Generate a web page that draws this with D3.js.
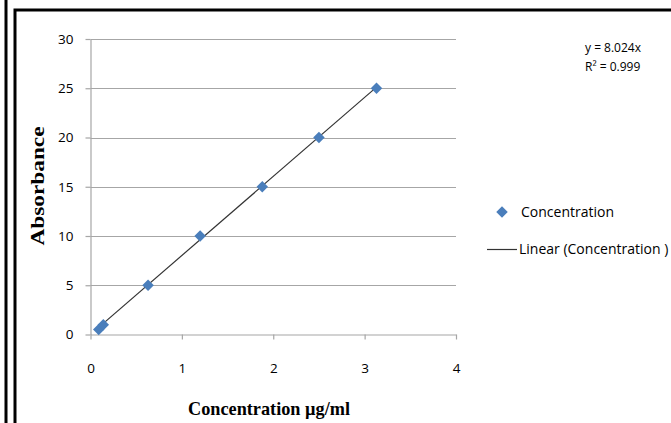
<!DOCTYPE html>
<html>
<head>
<meta charset="utf-8">
<script src="https://cdn.jsdelivr.net/npm/d3@7"></script>
<style>
  body { margin: 0; background: #fff; }
  svg { display: block; }
</style>
</head>
<body>
<svg width="671" height="423"></svg>
<script>
// data
const concentration = [0.09, 0.14, 0.63, 1.2, 1.88, 2.5, 3.13];
const absorbance = [0.5, 1, 5, 10, 15, 20, 25];
const slope = 8.024;
const xTicks = [0, 1, 2, 3, 4];
const yTicks = [0, 5, 10, 15, 20, 25, 30];

const $svg = d3.select('svg');

// outer frame
$svg.append('line').attr('x1', 6).attr('x2', 6).attr('y1', 0).attr('y2', 423)
  .attr('stroke', '#000').attr('stroke-width', 3);
$svg.append('path').attr('d', 'M15,423V10H671')
  .attr('fill', 'none').attr('stroke', '#000').attr('stroke-width', 3);

const x = d3.scaleLinear().domain([0, 4]).range([90.5, 456]);
const y = d3.scaleLinear().domain([0, 30]).range([334.5, 39]);

// gridlines
$svg.append('g').selectAll('line').data(yTicks.slice(1)).join('line')
  .attr('x1', x(0)).attr('x2', x(4))
  .attr('y1', (d) => Math.round(y(d)) + 0.5).attr('y2', (d) => Math.round(y(d)) + 0.5)
  .attr('stroke', '#a6a6a6').attr('stroke-width', 1.2);

const axisStyle = ($g) => {
  $g.attr('font-family', '"Open Sans", sans-serif').attr('font-size', 13.5);
  $g.select('.domain').attr('stroke', '#a6a6a6').attr('stroke-width', 1.2);
  $g.selectAll('.tick line').attr('stroke', '#a6a6a6').attr('stroke-width', 1.2);
  $g.selectAll('.tick text').attr('fill', '#000');
};

$svg.append('g').attr('transform', `translate(0,${y(0)})`)
  .call(d3.axisBottom(x).tickValues(xTicks).tickFormat(d3.format('d'))
    .tickSize(5).tickSizeOuter(0).tickPadding(24))
  .call(axisStyle);

$svg.append('g').attr('transform', `translate(${x(0)},0)`)
  .call(d3.axisLeft(y).tickValues(yTicks).tickFormat(d3.format('d'))
    .tickSize(5).tickSizeOuter(0).tickPadding(12))
  .call(axisStyle);

// linear trendline through origin
const xs = d3.extent(concentration);
$svg.append('path')
  .datum(xs.map((d) => [d, slope * d]))
  .attr('d', d3.line().x((d) => x(d[0])).y((d) => y(d[1])))
  .attr('stroke', '#333').attr('stroke-width', 1.2).attr('fill', 'none');

// markers
const diamond = d3.symbol().type(d3.symbolDiamond2).size(84);
$svg.append('g').selectAll('path').data(concentration).join('path')
  .attr('transform', (d, i) => `translate(${x(d)},${y(absorbance[i])})`)
  .attr('d', diamond)
  .attr('fill', '#4a7ebb');

// equation
const eq = $svg.append('text')
  .attr('font-family', '"Open Sans", sans-serif')
  .attr('font-size', 12).attr('fill', '#000');
eq.append('tspan').attr('x', 585).attr('y', 52).text('y = 8.024x');
eq.append('tspan').attr('x', 585).attr('y', 71).text('R² = 0.999');

// legend
$svg.append('path').attr('d', diamond)
  .attr('transform', 'translate(502,212)')
  .attr('fill', '#4a7ebb');
$svg.append('text').attr('x', 521).attr('y', 217)
  .attr('font-family', '"Open Sans", sans-serif')
  .attr('font-size', 14).text('Concentration');
$svg.append('line').attr('x1', 487).attr('x2', 517).attr('y1', 249.5).attr('y2', 249.5)
  .attr('stroke', '#333').attr('stroke-width', 1.2);
$svg.append('text').attr('x', 519).attr('y', 254)
  .attr('font-family', '"Open Sans", sans-serif')
  .attr('font-size', 14).text('Linear (Concentration )');

// axis titles
$svg.append('text')
  .attr('transform', 'translate(44,186) rotate(-90)')
  .attr('text-anchor', 'middle')
  .attr('font-family', '"Liberation Serif", "Times New Roman", serif')
  .attr('font-weight', 'bold').attr('font-size', 19)
  .attr('textLength', 119).attr('lengthAdjust', 'spacingAndGlyphs')
  .text('Absorbance');
$svg.append('text')
  .attr('x', 269).attr('y', 415)
  .attr('text-anchor', 'middle')
  .attr('font-family', '"Liberation Serif", "Times New Roman", serif')
  .attr('font-weight', 'bold').attr('font-size', 19)
  .attr('textLength', 162).attr('lengthAdjust', 'spacingAndGlyphs')
  .text('Concentration µg/ml');
</script>
</body>
</html>
